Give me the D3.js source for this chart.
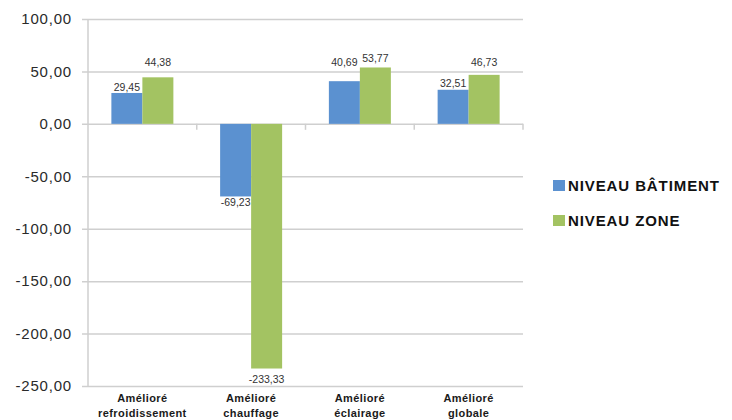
<!DOCTYPE html>
<html>
<head>
<meta charset="utf-8">
<script src="https://cdn.jsdelivr.net/npm/d3@7/dist/d3.min.js"></script>
<style>
  html, body { margin: 0; padding: 0; background: #fff; }
  svg { display: block; font-family: "Liberation Sans", Arial, Helvetica, sans-serif; }
</style>
</head>
<body>
<svg id="chart" width="732" height="420"></svg>
<script>
// Categories (two-line labels) and series
const categories = ["Amélioré refroidissement", "Amélioré chauffage", "Amélioré éclairage", "Amélioré globale"];
const categoryLines = [["Amélioré", "refroidissement"], ["Amélioré", "chauffage"], ["Amélioré", "éclairage"], ["Amélioré", "globale"]];
const seriesNames = ["NIVEAU BÂTIMENT", "NIVEAU ZONE"];
const batimentValues = [29.45, -69.23, 40.69, 32.51];
const zoneValues = [44.38, -233.33, 53.77, 46.73];
const yTicks = [100, 50, 0, -50, -100, -150, -200, -250];

const colors = ["#5b91d0", "#a3c362"];
const series = [batimentValues, zoneValues];

// Extra vertical gap between each bar end and its value label (series x category)
const labelGap = [[6, 6, 19, 7], [15, 10, 9, 13]];

const svg = d3.select("#chart");
const plotLeft = 88, plotRight = 523, plotTop = 19, plotBottom = 386;

const y = d3.scaleLinear().domain([-250, 100]).range([plotBottom, plotTop]);
const x0 = d3.scaleBand().domain(categories).range([plotLeft, plotRight]).paddingInner(0).paddingOuter(0);
const groupWidth = 62;
const x1 = d3.scaleBand().domain(seriesNames).range([0, groupWidth]).padding(0);

// French number format: comma decimal, plain hyphen for negatives
const frLocale = d3.formatLocale({ decimal: ",", thousands: " ", grouping: [3], currency: ["", " €"], minus: "-" });
const fmt = frLocale.format(".2f");

// Gridlines + y labels
const yAxis = d3.axisLeft(y).tickValues(yTicks).tickSize(0).tickFormat(fmt);
const gy = svg.append("g").attr("transform", `translate(${plotLeft},0)`).call(yAxis);
gy.select(".domain").remove();
gy.selectAll(".tick line").attr("stroke", "#cfcfcf").attr("stroke-width", 1.5).attr("x1", -6).attr("x2", plotRight - plotLeft);
gy.selectAll(".tick text")
  .attr("x", -16)
  .attr("fill", "#2a2a2a")
  .style("font-size", "15px")
  .style("letter-spacing", "0.8px");

// Vertical axis line
svg.append("line")
  .attr("x1", plotLeft).attr("x2", plotLeft).attr("y1", plotTop).attr("y2", plotBottom)
  .attr("stroke", "#cfcfcf").attr("stroke-width", 1.5);

// Category axis ticks at zero line
const boundaries = categories.map(c => x0(c) + x0.bandwidth());
svg.selectAll("line.cat-tick").data(boundaries).enter().append("line")
  .attr("class", "cat-tick")
  .attr("x1", d => d).attr("x2", d => d)
  .attr("y1", y(0)).attr("y2", y(0) + 6)
  .attr("stroke", "#cfcfcf").attr("stroke-width", 1.5);

// Bars
const groups = svg.selectAll("g.grp").data(categories).enter().append("g")
  .attr("class", "grp")
  .attr("transform", c => `translate(${x0(c) + (x0.bandwidth() - groupWidth) / 2},0)`);

seriesNames.forEach((name, si) => {
  groups.append("rect")
    .attr("x", x1(name))
    .attr("width", x1.bandwidth())
    .attr("y", (c, ci) => Math.min(y(series[si][ci]), y(0)))
    .attr("height", (c, ci) => Math.abs(y(series[si][ci]) - y(0)))
    .attr("fill", colors[si]);

  groups.append("text")
    .attr("x", x1(name) + x1.bandwidth() / 2)
    .attr("y", (c, ci) => {
      const v = series[si][ci];
      return v >= 0 ? y(v) - labelGap[si][ci] + 4 : y(v) + labelGap[si][ci] + 4;
    })
    .attr("text-anchor", "middle")
    .attr("fill", "#333")
    .style("font-size", "10.5px")
    .text((c, ci) => fmt(series[si][ci]));
});

// Category labels
const catText = svg.selectAll("text.cat").data(categories).enter().append("text")
  .attr("class", "cat")
  .attr("text-anchor", "middle")
  .attr("fill", "#1a1a1a")
  .style("font-size", "11px")
  .style("font-weight", "bold")
  .style("letter-spacing", "0.4px");
catText.each(function(c, i) {
  const t = d3.select(this);
  const cx = x0(c) + x0.bandwidth() / 2;
  categoryLines[i].forEach((line, li) => {
    t.append("tspan").attr("x", cx).attr("y", 402 + li * 15).text(line);
  });
});

// Legend
const legend = svg.selectAll("g.leg").data(seriesNames).enter().append("g")
  .attr("class", "leg")
  .attr("transform", (d, i) => `translate(553,${180 + i * 35})`);
legend.append("rect").attr("width", 12).attr("height", 11).attr("y", 0)
  .attr("fill", (d, i) => colors[i]);
legend.append("text").attr("x", 15).attr("y", 11)
  .attr("fill", "#111")
  .style("font-size", "15px")
  .style("font-weight", "bold")
  .style("letter-spacing", "0.9px")
  .text(d => d);
</script>
</body>
</html>
